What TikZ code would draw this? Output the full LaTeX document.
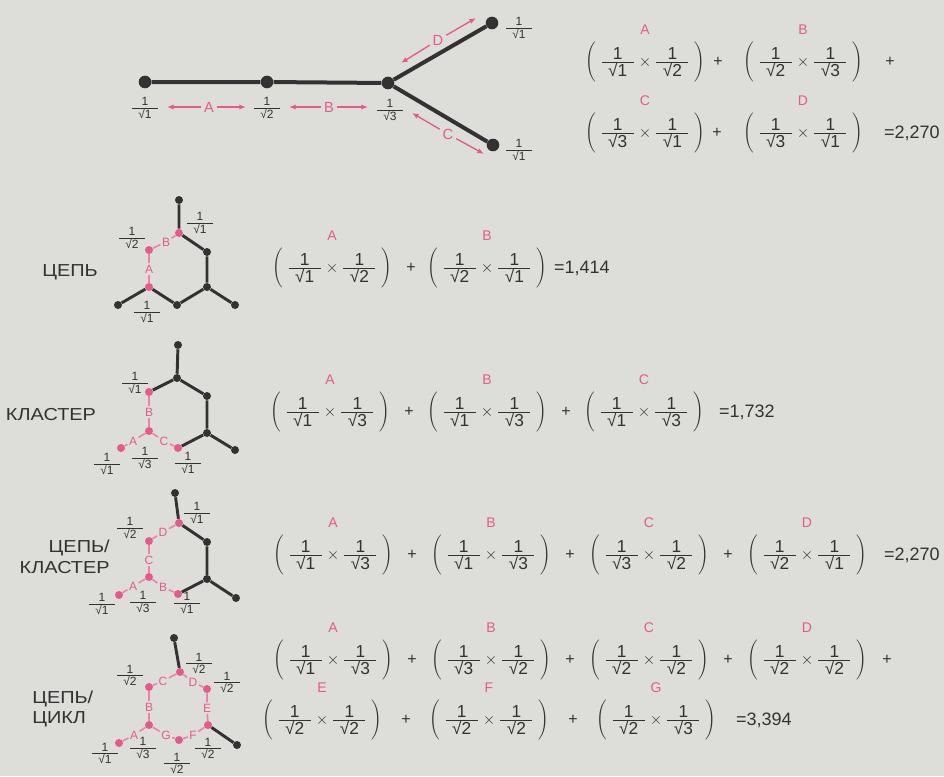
\documentclass[tikz,border=0pt]{standalone}
\usepackage{fontspec}
\setmainfont{Liberation Sans}
\newfontfamily\widefont[FakeStretch=1.15]{Liberation Sans}
\usetikzlibrary{arrows.meta,positioning}
\definecolor{pagegray}{RGB}{221,221,217}
\definecolor{inkgray}{RGB}{50,50,50}
\definecolor{markpink}{RGB}{228,90,140}
\newcommand{\fr}[1]{\frac{\makebox[24pt]{1}}{\makebox[24pt]{√#1}}}
\newcommand{\sfr}[1]{$\frac{\makebox[19pt]{1}}{\makebox[19pt]{√#1}}$}
\newcommand{\prd}[2]{$\Biggl(\;\fr{#1}\times\fr{#2}\;\Biggr)$}
\tikzset{
  atom/.style={circle, fill=inkgray, inner sep=0pt, minimum size=6pt},
  bigatom/.style={atom, minimum size=9.5pt},
  pinkatom/.style={circle, fill=markpink, inner sep=0pt, minimum size=6pt},
  bond/.style={inkgray, line width=2.2pt},
  bigbond/.style={inkgray, line width=3pt},
  walk/.style={markpink!75, line width=1.2pt},
  tag/.style={text=markpink, font=\fontsize{9}{9}\selectfont, inner sep=1pt},
  bigtag/.style={tag, font=\fontsize{11}{11}\selectfont, inner sep=2pt},
  eqtag/.style={tag, font=\fontsize{10.5}{11}\selectfont},
  weight/.style={text=inkgray, font=\fontsize{9}{10}\selectfont, inner sep=0pt},
  term/.style={text=inkgray, font=\fontsize{13}{15}\selectfont, inner sep=0pt},
  op/.style={text=inkgray, font=\fontsize{12}{14}\selectfont, inner sep=0pt},
  res/.style={text=inkgray, font=\fontsize{13.5}{14}\selectfont, inner sep=0pt, anchor=east},
  kind/.style={text=inkgray, font=\widefont\fontsize{13}{15.5}\selectfont, inner sep=0pt},
  reach/.style={markpink, line width=1pt, -{Latex[length=5pt,width=4pt]}},
}
\begin{document}
\begin{tikzpicture}[x=0.75pt,y=-0.75pt]
  \useasboundingbox (0,0) rectangle (944,776);
  \fill[pagegray] (0,0) rectangle (944,776);

  % top skeleton
  \node[bigatom] (t1) at (145,82) {};
  \node[bigatom] (t2) at (267,82) {};
  \node[bigatom] (t3) at (388,83) {};
  \node[bigatom] (t4) at (492,23) {};
  \node[bigatom] (t5) at (493,145) {};
  \draw[bigbond] (t1) -- (t2) -- (t3) -- (t4);
  \draw[bigbond] (t3) -- (t5);
  \node[weight] (w1) at (145,108) {\sfr1};
  \node[weight] (w2) at (267,108) {\sfr2};
  \node[weight] (w3) at (390,110) {\sfr3};
  \node[weight] (w4) at (519,28) {\sfr1};
  \node[weight] (w5) at (519,150) {\sfr1};
  \node[bigtag] (tA) at (209,107) {A};
  \node[bigtag] (tB) at (329,107) {B};
  \node[bigtag] (tD) at (438,40) {D};
  \node[bigtag] (tC) at (448,134) {C};
  \coordinate (aL) at (167,107);  \coordinate (aR) at (246,107);
  \coordinate (bL) at (289,107);  \coordinate (bR) at (368,107);
  \coordinate (dL) at (401,63);   \coordinate (dR) at (476,18);
  \coordinate (cL) at (412,113);  \coordinate (cR) at (484,154);
  \draw[reach] (tA) -- (aL);  \draw[reach] (tA) -- (aR);
  \draw[reach] (tB) -- (bL);  \draw[reach] (tB) -- (bR);
  \draw[reach] (tD) -- (dL);  \draw[reach] (tD) -- (dR);
  \draw[reach] (tC) -- (cL);  \draw[reach] (tC) -- (cR);

  % top sum
  \node[term] (q1) at (645,62) {\prd12};
  \node[op] (q1p) at (718,62) {+};
  \node[term] (q2) at (803,62) {\prd23};
  \node[op] (q2p) at (890,62) {+};
  \node[term] (q3) at (645,133) {\prd31};
  \node[op] (q3p) at (717,133) {+};
  \node[term] (q4) at (803,133) {\prd31};
  \node[res] (q4r) at (940,133) {=2,270};
  \node[eqtag, above=4pt of q1] (q1t) {A};
  \node[eqtag, above=4pt of q2] (q2t) {B};
  \node[eqtag, above=4pt of q3] (q3t) {C};
  \node[eqtag, above=4pt of q4] (q4t) {D};

  % chain
  \node[kind] (k2) at (70,272) {ЦЕПЬ};
  \node[atom] (g2t) at (179,200) {};
  \node[pinkatom] (g2a) at (179,233) {};
  \node[atom] (g2b) at (207,252) {};
  \node[atom] (g2c) at (207,287) {};
  \node[atom] (g2d) at (235,305) {};
  \node[atom] (g2e) at (177,305) {};
  \node[pinkatom] (g2f) at (149,287) {};
  \node[atom] (g2g) at (118,305) {};
  \node[pinkatom] (g2h) at (149,250) {};
  \draw[bond] (g2t) -- (g2a) -- (g2b) -- (g2c) -- (g2d);
  \draw[bond] (g2c) -- (g2e) -- (g2f) -- (g2g);
  \node[tag] (g2A) at (149,269) {A};
  \node[tag] (g2B) at (166,242) {B};
  \draw[walk] (g2f) -- (g2A) -- (g2h);
  \draw[walk] (g2h) -- (g2B) -- (g2a);
  \node[weight] (v21) at (132,238) {\sfr2};
  \node[weight] (v22) at (200,223) {\sfr1};
  \node[weight] (v23) at (147,312) {\sfr1};

  \node[term] (r21) at (332,268) {\prd12};
  \node[op] (r21p) at (411,268) {+};
  \node[term] (r22) at (487,268) {\prd21};
  \node[res] (r22r) at (610,268) {=1,414};
  \node[eqtag, above=4pt of r21] (r21t) {A};
  \node[eqtag, above=4pt of r22] (r22t) {B};

  % cluster
  \node[kind] (k3) at (51,415) {КЛАСТЕР};
  \node[atom] (g3t) at (178,345) {};
  \node[atom] (g3a) at (177,378) {};
  \node[atom] (g3b) at (207,396) {};
  \node[atom] (g3c) at (207,433) {};
  \node[atom] (g3d) at (235,450) {};
  \node[pinkatom] (g3e) at (178,448) {};
  \node[pinkatom] (g3f) at (149,431) {};
  \node[pinkatom] (g3g) at (121,448) {};
  \node[pinkatom] (g3h) at (149,392) {};
  \draw[bond] (g3t) -- (g3a) -- (g3b) -- (g3c) -- (g3d);
  \draw[bond] (g3c) -- (g3e);
  \draw[bond] (g3a) -- (g3h);
  \node[tag] (g3A) at (133,441) {A};
  \node[tag] (g3B) at (149,412) {B};
  \node[tag] (g3C) at (164,441) {C};
  \draw[walk] (g3f) -- (g3B) -- (g3h);
  \draw[walk] (g3f) -- (g3A) -- (g3g);
  \draw[walk] (g3f) -- (g3C) -- (g3e);
  \node[weight] (v31) at (135,383) {\sfr1};
  \node[weight] (v32) at (107,464) {\sfr1};
  \node[weight] (v33) at (145,458) {\sfr3};
  \node[weight] (v34) at (188,463) {\sfr1};

  \node[term] (r31) at (330,412) {\prd13};
  \node[op] (r31p) at (409,412) {+};
  \node[term] (r32) at (487,412) {\prd13};
  \node[op] (r32p) at (566,412) {+};
  \node[term] (r33) at (644,412) {\prd13};
  \node[res] (r33r) at (775,412) {=1,732};
  \node[eqtag, above=4pt of r31] (r31t) {A};
  \node[eqtag, above=4pt of r32] (r32t) {B};
  \node[eqtag, above=4pt of r33] (r33t) {C};

  % chain / cluster
  \node[kind, align=right, anchor=east] (k4) at (110,557) {ЦЕПЬ/\\КЛАСТЕР};
  \node[atom] (g4t) at (175,493) {};
  \node[pinkatom] (g4a) at (179,523) {};
  \node[atom] (g4b) at (207,542) {};
  \node[atom] (g4c) at (207,579) {};
  \node[atom] (g4d) at (236,598) {};
  \node[pinkatom] (g4e) at (178,594) {};
  \node[pinkatom] (g4f) at (149,577) {};
  \node[pinkatom] (g4g) at (119,595) {};
  \node[pinkatom] (g4h) at (149,541) {};
  \draw[bond] (g4t) -- (g4a) -- (g4b) -- (g4c) -- (g4d);
  \draw[bond] (g4c) -- (g4e);
  \node[tag] (g4D) at (163,532) {D};
  \node[tag] (g4C) at (149,560) {C};
  \node[tag] (g4A) at (133,586) {A};
  \node[tag] (g4B) at (163,587) {B};
  \draw[walk] (g4a) -- (g4D) -- (g4h);
  \draw[walk] (g4h) -- (g4C) -- (g4f);
  \draw[walk] (g4f) -- (g4A) -- (g4g);
  \draw[walk] (g4f) -- (g4B) -- (g4e);
  \node[weight] (v41) at (130,528) {\sfr2};
  \node[weight] (v42) at (197,513) {\sfr1};
  \node[weight] (v43) at (102,604) {\sfr1};
  \node[weight] (v44) at (143,602) {\sfr3};
  \node[weight] (v45) at (187,603) {\sfr1};

  \node[term] (r41) at (333,555) {\prd13};
  \node[op] (r41p) at (412,555) {+};
  \node[term] (r42) at (491,555) {\prd13};
  \node[op] (r42p) at (570,555) {+};
  \node[term] (r43) at (649,555) {\prd32};
  \node[op] (r43p) at (728,555) {+};
  \node[term] (r44) at (807,555) {\prd21};
  \node[res] (r44r) at (940,555) {=2,270};
  \node[eqtag, above=4pt of r41] (r41t) {A};
  \node[eqtag, above=4pt of r42] (r42t) {B};
  \node[eqtag, above=4pt of r43] (r43t) {C};
  \node[eqtag, above=4pt of r44] (r44t) {D};

  % chain / cycle
  \node[kind, align=left, anchor=west] (k5) at (32,709) {ЦЕПЬ/\\ЦИКЛ};
  \node[atom] (g5t) at (174,638) {};
  \node[pinkatom] (g5a) at (180,672) {};
  \node[pinkatom] (g5b) at (207,689) {};
  \node[pinkatom] (g5c) at (208,725) {};
  \node[atom] (g5d) at (237,745) {};
  \node[pinkatom] (g5e) at (179,740) {};
  \node[pinkatom] (g5f) at (149,725) {};
  \node[pinkatom] (g5g) at (119,743) {};
  \node[pinkatom] (g5h) at (149,687) {};
  \draw[bond] (g5t) -- (g5a);
  \draw[bond] (g5c) -- (g5d);
  \node[tag] (g5C) at (163,681) {C};
  \node[tag] (g5D) at (193,682) {D};
  \node[tag] (g5E) at (207,708) {E};
  \node[tag] (g5F) at (193,735) {F};
  \node[tag] (g5G) at (166,735) {G};
  \node[tag] (g5B) at (149,707) {B};
  \node[tag] (g5A) at (134,735) {A};
  \draw[walk] (g5h) -- (g5C) -- (g5a);
  \draw[walk] (g5a) -- (g5D) -- (g5b);
  \draw[walk] (g5b) -- (g5E) -- (g5c);
  \draw[walk] (g5c) -- (g5F) -- (g5e);
  \draw[walk] (g5e) -- (g5G) -- (g5f);
  \draw[walk] (g5f) -- (g5B) -- (g5h);
  \draw[walk] (g5f) -- (g5A) -- (g5g);
  \node[weight] (v51) at (130,675) {\sfr2};
  \node[weight] (v52) at (199,663) {\sfr2};
  \node[weight] (v53) at (227,682) {\sfr2};
  \node[weight] (v54) at (105,753) {\sfr1};
  \node[weight] (v55) at (143,748) {\sfr3};
  \node[weight] (v56) at (177,763) {\sfr2};
  \node[weight] (v57) at (208,748) {\sfr2};

  \node[term] (r51) at (333,660) {\prd13};
  \node[op] (r51p) at (412,660) {+};
  \node[term] (r52) at (491,660) {\prd32};
  \node[op] (r52p) at (570,660) {+};
  \node[term] (r53) at (649,660) {\prd22};
  \node[op] (r53p) at (728,660) {+};
  \node[term] (r54) at (807,660) {\prd22};
  \node[op] (r54p) at (887,660) {+};
  \node[eqtag, above=4pt of r51] (r51t) {A};
  \node[eqtag, above=4pt of r52] (r52t) {B};
  \node[eqtag, above=4pt of r53] (r53t) {C};
  \node[eqtag, above=4pt of r54] (r54t) {D};
  \node[term] (r55) at (322,720) {\prd22};
  \node[op] (r55p) at (406,720) {+};
  \node[term] (r56) at (489,720) {\prd22};
  \node[op] (r56p) at (573,720) {+};
  \node[term] (r57) at (656,720) {\prd23};
  \node[res] (r57r) at (792,720) {=3,394};
  \node[eqtag, above=4pt of r55] (r55t) {E};
  \node[eqtag, above=4pt of r56] (r56t) {F};
  \node[eqtag, above=4pt of r57] (r57t) {G};
\end{tikzpicture}
\end{document}
